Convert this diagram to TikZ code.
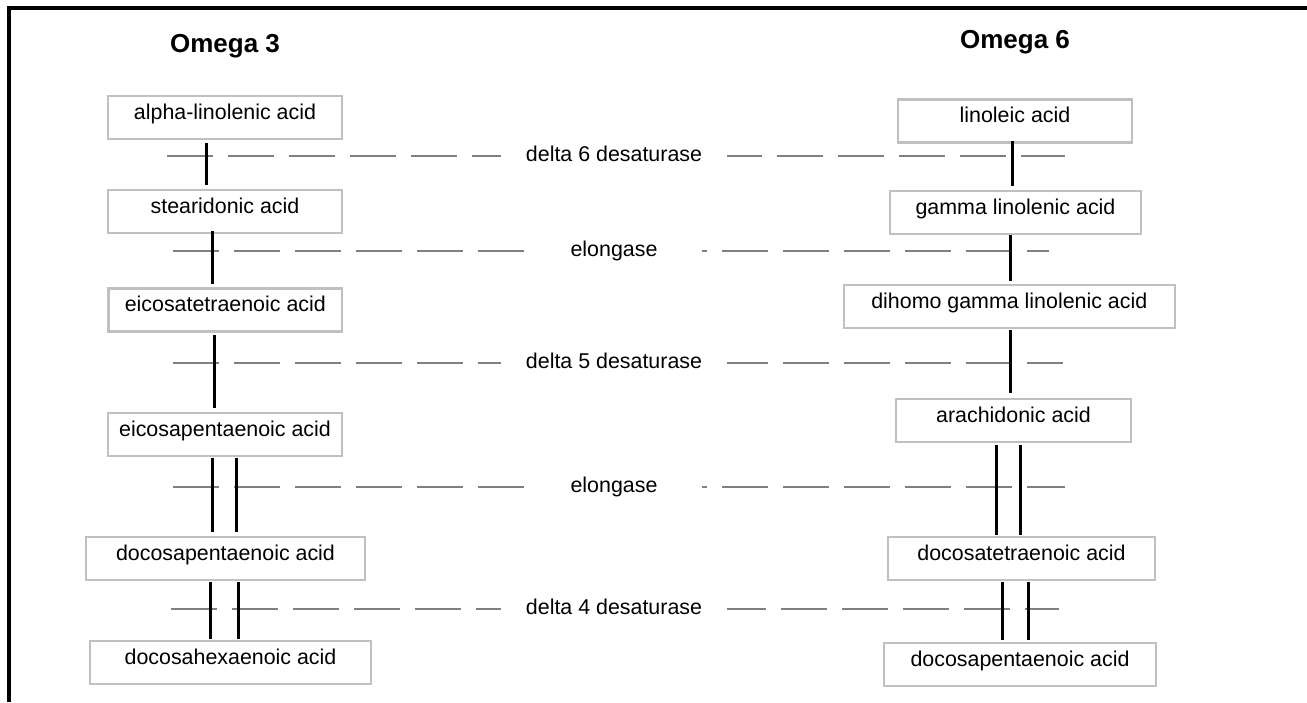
\documentclass[tikz,border=0pt]{standalone}
\usepackage{fontspec}
\setmainfont{Liberation Sans}
\usepackage{xcolor}
\definecolor{boxgray}{HTML}{C0C0C0}
\definecolor{dashgray}{HTML}{808080}

\begin{document}
\begin{tikzpicture}[x=0.5pt,y=-0.5pt,
  acid/.style={draw=boxgray,line width=1.2pt,minimum height=21.5pt,inner sep=0pt,text height=7.8pt,text depth=6.3pt,font=\fontsize{10.7}{12}\selectfont},
  enzyme/.style={fill=white,inner xsep=12.5pt,inner ysep=1pt,text height=7.8pt,text depth=2pt,font=\fontsize{10.7}{12}\selectfont},
  title/.style={anchor=base,font=\fontsize{13}{15}\selectfont\bfseries},
  sep/.style={draw=dashgray,line width=1pt,dash pattern=on 23pt off 7.5pt},
  link/.style={line width=1.6pt}]
\useasboundingbox (0,0) rectangle (1307,702);
\draw[line width=2pt] (1307,8) -- (9,8) -- (9,702);
\node[title] (om3) at (225,52) {Omega 3};
\node[title] (om6) at (1015,48) {Omega 6};
\coordinate (d6l) at (167,156);
\coordinate (d6r) at (1065,156);
\coordinate (el1l) at (173,251);
\coordinate (el1r) at (1049,251);
\coordinate (d5l) at (173,363);
\coordinate (d5r) at (1063,363);
\coordinate (el2l) at (173,487);
\coordinate (el2r) at (1065,487);
\coordinate (d4l) at (171,609);
\coordinate (d4r) at (1059,609);
\draw[sep] (d6l) -- (d6r);
\draw[sep] (el1l) -- (el1r);
\draw[sep] (d5l) -- (d5r);
\draw[sep] (el2l) -- (el2r);
\draw[sep] (d4l) -- (d4r);
\node[enzyme] (d6) at (614,156) {delta 6 desaturase};
\node[enzyme,minimum width=88pt] (el1) at (614,251) {elongase};
\node[enzyme] (d5) at (614,363) {delta 5 desaturase};
\node[enzyme,minimum width=88pt] (el2) at (614,487) {elongase};
\node[enzyme] (d4) at (614,609) {delta 4 desaturase};
\node[acid,minimum width=117pt] (ala) at (225,117.5) {alpha-linolenic acid};
\node[acid,minimum width=117pt] (sda) at (225,211.5) {stearidonic acid};
\node[acid,minimum width=116.7pt] (eta) at (225.3,310) {eicosatetraenoic acid};
\node[acid,minimum width=117pt] (epa) at (225,434.5) {eicosapentaenoic acid};
\node[acid,minimum width=139.5pt] (dpa3) at (225.5,558.5) {docosapentaenoic acid};
\node[acid,minimum width=140.5pt] (dha) at (230.5,662.5) {docosahexaenoic acid};
\node[acid,minimum width=117pt] (la) at (1015,121) {linoleic acid};
\node[acid,minimum width=125.5pt] (gla) at (1015.5,212.5) {gamma linolenic acid};
\node[acid,minimum width=165.5pt] (dgla) at (1009.3,306.5) {dihomo gamma linolenic acid};
\node[acid,minimum width=117.5pt] (aa) at (1013.5,420.5) {arachidonic acid};
\node[acid,minimum width=133.5pt] (dta) at (1021.5,558.5) {docosatetraenoic acid};
\node[acid,minimum width=136pt] (dpa6) at (1020,664.5) {docosapentaenoic acid};
\draw[link,shorten <=1.5pt,shorten >=2pt] ([xshift=-9.2pt]ala.south) -- ([xshift=-9.2pt]ala.south |- sda.north);
\draw[link,shorten <=-1.5pt,shorten >=1.7pt] ([xshift=-6.4pt]sda.south) -- ([xshift=-6.4pt]sda.south |- eta.north);
\draw[link,shorten <=1pt,shorten >=2pt] ([xshift=-5.5pt]eta.south) -- ([xshift=-5.5pt]eta.south |- epa.north);
\draw[link,shorten <=0.5pt,shorten >=2pt] ([xshift=-6.4pt]epa.south) -- ([xshift=-6.4pt]epa.south |- dpa3.north);
\draw[link,shorten <=0.5pt,shorten >=2pt] ([xshift=5.6pt]epa.south) -- ([xshift=5.6pt]epa.south |- dpa3.north);
\draw[link,shorten <=0.5pt,shorten >=0.5pt] ([xshift=-7.6pt]dpa3.south) -- ([xshift=-7.6pt]dpa3.south |- dha.north);
\draw[link,shorten <=0.5pt,shorten >=0.5pt] ([xshift=6.4pt]dpa3.south) -- ([xshift=6.4pt]dpa3.south |- dha.north);
\draw[link,shorten <=-1.6pt,shorten >=2pt] ([xshift=-1.2pt]la.south) -- ([xshift=-1.2pt]la.south |- gla.north);
\draw[link,shorten <=0pt,shorten >=1.2pt] ([xshift=-2.4pt]gla.south) -- ([xshift=-2.4pt]gla.south |- dgla.north);
\draw[link,shorten <=0.5pt,shorten >=2.6pt] ([xshift=0.7pt]dgla.south) -- ([xshift=0.7pt]dgla.south |- aa.north);
\draw[link,shorten <=1pt,shorten >=0.5pt] ([xshift=-8.4pt]aa.south) -- ([xshift=-8.4pt]aa.south |- dta.north);
\draw[link,shorten <=1pt,shorten >=0.5pt] ([xshift=3.6pt]aa.south) -- ([xshift=3.6pt]aa.south |- dta.north);
\draw[link,shorten <=0.5pt,shorten >=1pt] ([xshift=-9.4pt]dta.south) -- ([xshift=-9.4pt]dta.south |- dpa6.north);
\draw[link,shorten <=0.5pt,shorten >=1pt] ([xshift=3.4pt]dta.south) -- ([xshift=3.4pt]dta.south |- dpa6.north);
\end{tikzpicture}
\end{document}
